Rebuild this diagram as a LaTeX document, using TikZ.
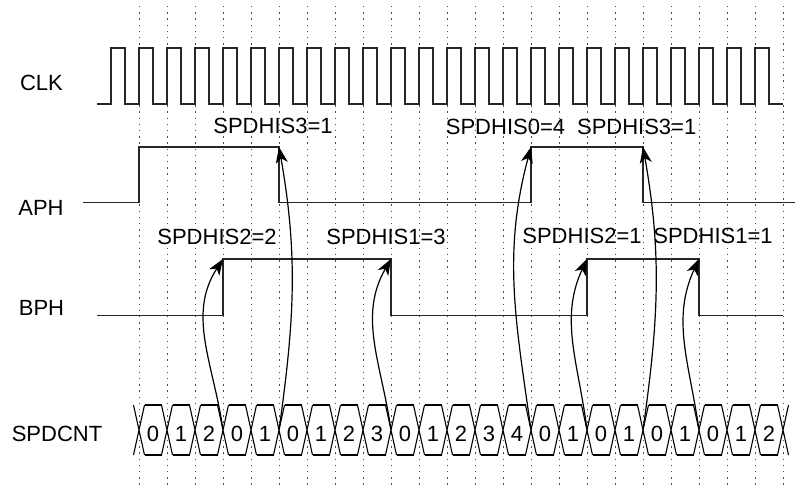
\documentclass[tikz,border=0pt]{standalone}
\usepackage{fontspec}
\setmainfont{Liberation Sans}
\usetikzlibrary{arrows.meta}
\begin{document}
\begin{tikzpicture}[x=1pt,y=1pt,
  lbl/.style={font=\fontsize{22}{26}\selectfont, inner sep=0pt, anchor=base},
  sig/.style={line width=1.5pt, black!85, line join=miter},
  gridline/.style={line width=1pt, black!70, dash pattern=on 1.4pt off 4.8pt},
  cellline/.style={line width=1.1pt, black},
  arr/.style={line width=1.2pt, black, -{Stealth[length=16pt,width=12pt,inset=4.5pt]}}]
\useasboundingbox (0,0) rectangle (795,-492);
\fill[white] (0,0) rectangle (795,-492);
% grid
\foreach \k in {0,...,23} \draw[gridline] ({139+28*\k},-6) -- ({139+28*\k},-486);
% clock
\draw[sig] (97,-104) foreach \k in {0,...,23} { -- ({111+28*\k},-104) -- ({111+28*\k},-48) -- ({125+28*\k},-48) -- ({125+28*\k},-104) } -- (783,-104);
% APH
\draw[sig] (83,-202.5) -- (139,-202.5) -- (139,-147) -- (279,-147) -- (279,-202.5) -- (531,-202.5) -- (531,-147) -- (643,-147) -- (643,-202.5) -- (795,-202.5);
% BPH
\draw[sig] (97,-315.5) -- (223,-315.5) -- (223,-259) -- (391,-259) -- (391,-315.5) -- (587,-315.5) -- (587,-259) -- (699,-259) -- (699,-315.5) -- (783,-315.5);
% edge corners
\coordinate (bphr1) at (223,-259);
\coordinate (aphf1) at (279,-147);
\coordinate (bphf1) at (391,-259);
\coordinate (aphr2) at (531,-147);
\coordinate (bphr2) at (587,-259);
\coordinate (aphf2) at (643,-147);
\coordinate (bphf2) at (699,-259);
% SPDCNT crossings
\foreach \k in {0,...,23} {
  \coordinate (x\k) at ({139+28*\k},-430);
  \draw[cellline] ({139+28*\k-5.5},-405) -- ({139+28*\k+5.5},-455)
                  ({139+28*\k-5.5},-455) -- ({139+28*\k+5.5},-405);
}
\foreach \v [count=\i from 0] in {0,1,2,0,1,0,1,2,3,0,1,2,3,4,0,1,0,1,0,1,0,1,2} {
  \draw[cellline] ({139+28*\i+5.5},-405) -- ({167+28*\i-5.5},-405)
                  ({139+28*\i+5.5},-455) -- ({167+28*\i-5.5},-455);
  \node[lbl] (v\i) at ({153+28*\i},-441) {\v};
}
% labels
\node[lbl] (clk) at (41.5,-91) {CLK};
\node[lbl] (aph) at (41,-215) {APH};
\node[lbl] (bph) at (41.5,-315) {BPH};
\node[lbl] (spdcnt) at (57,-441) {SPDCNT};
\node[lbl] (h1) at (273,-133.5) {SPDHIS3=1};
\node[lbl] (h2) at (505.5,-134.5) {SPDHIS0=4};
\node[lbl] (h3) at (636.7,-134.5) {SPDHIS3=1};
\node[lbl] (h4) at (217,-244) {SPDHIS2=2};
\node[lbl] (h5) at (386,-244) {SPDHIS1=3};
\node[lbl] (h6) at (582,-243.5) {SPDHIS2=1};
\node[lbl] (h7) at (713,-243.5) {SPDHIS1=1};
% arrows
\draw[arr] (x3) to[out=98,in=-123] (bphr1);
\draw[arr] (x5) to[out=82,in=-80] (aphf1);
\draw[arr] (x9) to[out=98,in=-120] (bphf1);
\draw[arr] (x14) to[out=98,in=-105] (aphr2);
\draw[arr] (x16) to[out=97,in=-115] (bphr2);
\draw[arr] (x18) to[out=82,in=-80] (aphf2);
\draw[arr] (x20) to[out=98,in=-115] (bphf2);
\end{tikzpicture}
\end{document}
